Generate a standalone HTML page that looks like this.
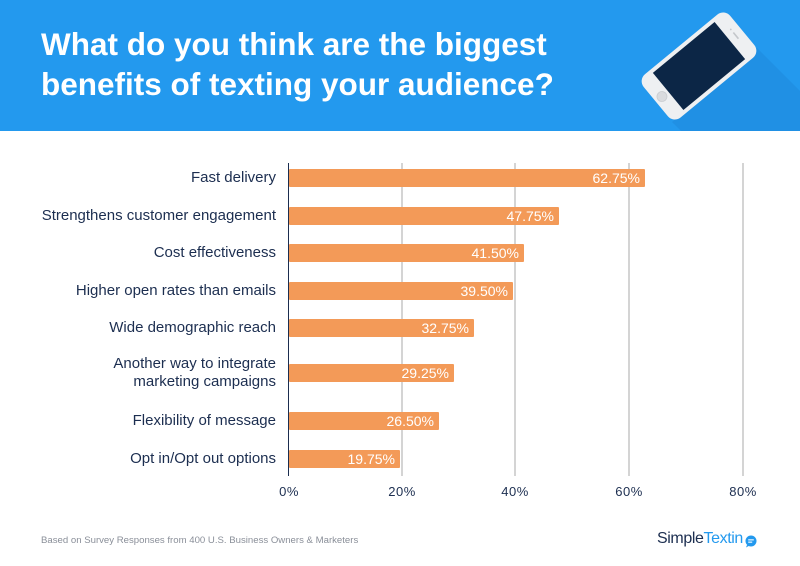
<!DOCTYPE html>
<html>
<head>
<meta charset="utf-8">
<style>
  html,body{margin:0;padding:0;}
  body{width:800px;height:566px;position:relative;overflow:hidden;background:#ffffff;font-family:"Liberation Sans",sans-serif;}
  .hdr{position:absolute;left:0;top:0;width:800px;height:131px;background:#2399ee;overflow:hidden;}
  .title{position:absolute;left:41px;top:24px;color:#fff;font-size:31.5px;font-weight:bold;line-height:40px;white-space:nowrap;}
  .grid{position:absolute;top:163px;height:313px;width:2px;background:#d4d4d4;}
  .axis{position:absolute;left:288px;top:163px;height:313px;width:1.2px;background:#1b2d4f;}
  .bar{position:absolute;left:289px;height:18px;background:#f39a58;border-radius:1px;}
  .val{position:absolute;right:5px;top:0;line-height:18px;color:#fff;font-size:14px;}
  .lab{position:absolute;right:524px;color:#1c2e50;font-size:15px;text-align:right;white-space:nowrap;line-height:18px;}
  .tick{position:absolute;top:484px;width:60px;margin-left:-30px;text-align:center;color:#1c2e50;font-size:13px;letter-spacing:0.5px;line-height:16px;}
  .foot{position:absolute;left:41px;top:535px;color:#8a8f99;font-size:9.6px;white-space:nowrap;line-height:12px;}
  .logo{position:absolute;left:657px;top:529px;font-size:16px;letter-spacing:-0.4px;white-space:nowrap;line-height:20px;}
</style>
</head>
<body>
<div class="hdr">
  <svg width="800" height="131" style="position:absolute;left:0;top:0">
    <polygon points="757,48 907,198 822,270 672,122" fill="#2090e4"/>
    <g transform="translate(699,66) rotate(-39.5)">
      <rect x="-56" y="-28" width="112" height="56" rx="9" ry="9" fill="#eef0f2"/>
      <rect x="-40" y="-24" width="80" height="48" fill="#0c2646"/>
      <circle cx="-48" cy="0" r="5" fill="#d9dbde" stroke="#c9ccd0" stroke-width="0.8"/>
      <rect x="47" y="-4" width="1.6" height="8" fill="#c4c7cb"/>
      <circle cx="47.8" cy="-8" r="0.9" fill="#c4c7cb"/>
    </g>
  </svg>
  <div class="title">What do you think are the biggest<br>benefits of texting your audience?</div>
</div>

<div class="grid" style="left:401px"></div>
<div class="grid" style="left:514px"></div>
<div class="grid" style="left:628px"></div>
<div class="grid" style="left:742px"></div>
<div class="axis"></div>

<div class="lab" style="top:169px">Fast delivery</div>
<div class="bar" style="top:169px;width:356px"><span class="val">62.75%</span></div>

<div class="lab" style="top:206.5px">Strengthens customer engagement</div>
<div class="bar" style="top:206.5px;width:270px"><span class="val">47.75%</span></div>

<div class="lab" style="top:244px">Cost effectiveness</div>
<div class="bar" style="top:244px;width:235px"><span class="val">41.50%</span></div>

<div class="lab" style="top:281.5px">Higher open rates than emails</div>
<div class="bar" style="top:281.5px;width:224px"><span class="val">39.50%</span></div>

<div class="lab" style="top:318.5px">Wide demographic reach</div>
<div class="bar" style="top:318.5px;width:185px"><span class="val">32.75%</span></div>

<div class="lab" style="top:355px">Another way to integrate<br>marketing campaigns</div>
<div class="bar" style="top:364px;width:165px"><span class="val">29.25%</span></div>

<div class="lab" style="top:412px">Flexibility of message</div>
<div class="bar" style="top:412px;width:150px"><span class="val">26.50%</span></div>

<div class="lab" style="top:449.5px">Opt in/Opt out options</div>
<div class="bar" style="top:449.5px;width:111px"><span class="val">19.75%</span></div>

<div class="tick" style="left:289px">0%</div>
<div class="tick" style="left:402px">20%</div>
<div class="tick" style="left:515px">40%</div>
<div class="tick" style="left:629px">60%</div>
<div class="tick" style="left:743px">80%</div>

<div class="foot">Based on Survey Responses from 400 U.S. Business Owners &amp; Marketers</div>

<div class="logo"><span style="color:#1c2e50">Simple</span><span style="color:#2399ee">Textin</span></div>
<svg width="14" height="14" style="position:absolute;left:744px;top:534px">
  <circle cx="7" cy="7" r="5.5" fill="#2399ee"/>
  <path d="M3 11 L2 13.5 L5.5 11.5 Z" fill="#2399ee"/>
  <rect x="4.2" y="5.3" width="5.6" height="1.1" fill="#fff"/>
  <rect x="4.2" y="7.6" width="4" height="1.1" fill="#fff"/>
</svg>
</body>
</html>
